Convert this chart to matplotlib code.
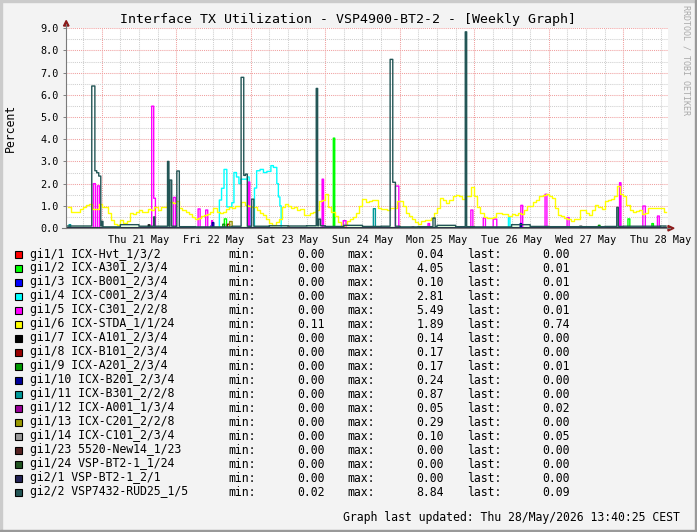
import numpy as np
import matplotlib
matplotlib.use('Agg')
import matplotlib.pyplot as plt
from matplotlib.patches import Rectangle, Polygon
from matplotlib.lines import Line2D

plt.rcParams['font.family'] = ['DejaVu Sans Mono']

W, H = 697, 532

# time axis in hours, 0 = Thu 21 May 00:00
t_start, t_end, t_last = -11.5, 182.4, 181.8
day_noons = [12, 36, 60, 84, 108, 132, 156, 180]
day_labels = ['Thu 21 May', 'Fri 22 May', 'Sat 23 May', 'Sun 24 May',
              'Mon 25 May', 'Tue 26 May', 'Wed 27 May', 'Thu 28 May']

# legend table
names = ['gi1/1 ICX-Hvt_1/3/2', 'gi1/2 ICX-A301_2/3/4', 'gi1/3 ICX-B001_2/3/4',
         'gi1/4 ICX-C001_2/3/4', 'gi1/5 ICX-C301_2/2/8', 'gi1/6 ICX-STDA_1/1/24',
         'gi1/7 ICX-A101_2/3/4', 'gi1/8 ICX-B101_2/3/4', 'gi1/9 ICX-A201_2/3/4',
         'gi1/10 ICX-B201_2/3/4', 'gi1/11 ICX-B301_2/2/8', 'gi1/12 ICX-A001_1/3/4',
         'gi1/13 ICX-C201_2/2/8', 'gi1/14 ICX-C101_2/3/4', 'gi1/23 5520-New14_1/23',
         'gi1/24 VSP-BT2-1_1/24', 'gi2/1 VSP-BT2-1_2/1', 'gi2/2 VSP7432-RUD25_1/5']
colors = ['#FF0000', '#00FF00', '#0000FF', '#00FFFF', '#FF00FF', '#FFFF00',
          '#000000', '#990000', '#009900', '#000099', '#009999', '#990099',
          '#999900', '#999999', '#552222', '#225522', '#222255', '#225555']
mins = [0.00, 0.00, 0.00, 0.00, 0.00, 0.11, 0.00, 0.00, 0.00,
        0.00, 0.00, 0.00, 0.00, 0.00, 0.00, 0.00, 0.00, 0.02]
maxs = [0.04, 4.05, 0.10, 2.81, 5.49, 1.89, 0.14, 0.17, 0.17,
        0.24, 0.87, 0.05, 0.29, 0.10, 0.00, 0.00, 0.00, 8.84]
lasts = [0.00, 0.01, 0.01, 0.00, 0.01, 0.74, 0.00, 0.00, 0.01,
         0.00, 0.00, 0.02, 0.00, 0.05, 0.00, 0.00, 0.00, 0.09]

# gi1/6 hourly values starting at hour -11
yellow_vals = [
    0.95, 0.74, 0.71, 0.74, 0.84, 0.96, 1.02, 1.08, 0.86, 0.86, 1.08,
    0.95, 0.95, 0.68, 0.38, 0.20, 0.12, 0.35, 0.23, 0.30, 0.68,
    0.65, 0.71, 0.80, 0.70, 0.74, 0.84, 0.80, 0.95, 0.80, 0.96,
    0.95, 1.16, 1.15, 1.12, 1.23, 0.89, 0.80, 0.71, 0.65, 0.50,
    0.41, 0.45, 0.54, 0.59, 0.65, 0.74, 0.89, 0.74, 0.68, 0.74,
    0.84, 0.95, 0.89, 1.00, 1.00, 1.16, 1.05, 1.00, 0.95, 0.96,
    0.80, 0.68, 0.59, 0.41, 0.23, 0.12, 0.26, 0.41, 0.95, 1.08,
    1.00, 0.89, 0.96, 0.80, 0.84, 0.59, 0.59, 0.68, 0.74, 0.80,
    1.20, 1.26, 1.52, 0.96, 0.74, 0.54, 0.26, 0.11, 0.15, 0.30,
    0.41, 0.50, 0.68, 1.00, 1.29, 1.15, 1.20, 1.26, 1.26, 0.89,
    0.86, 0.84, 0.80, 0.89, 0.89, 1.20, 1.20, 1.00, 0.68, 0.53,
    0.41, 0.26, 0.20, 0.30, 0.38, 0.38, 0.45, 0.68, 0.89, 1.33,
    1.26, 1.11, 1.26, 1.42, 1.50, 1.45, 1.30, 1.42, 1.42, 1.83,
    1.42, 0.96, 0.68, 0.50, 0.45, 0.45, 0.50, 0.68, 0.68, 0.65,
    0.65, 0.56, 0.65, 0.59, 0.68, 0.65, 0.80, 1.00, 1.00, 1.16,
    1.26, 1.42, 1.50, 1.52, 1.45, 1.33, 0.92, 0.59, 0.53, 0.45,
    0.41, 0.30, 0.41, 0.41, 0.80, 0.80, 0.68, 0.59, 0.80, 1.05,
    0.96, 0.84, 1.23, 1.26, 1.30, 1.42, 1.89, 1.55, 1.42, 1.05,
    0.80, 0.74, 0.76, 0.80, 0.65, 0.68, 0.92, 0.92, 0.89, 0.89,
    0.92, 0.74]

# gi2/2 background level, 6 hour blocks starting at hour -12
slate_base = [0.09, 0.09, 0.05, 0.15, 0.08, 0.08, 0.06, 0.05, 0.05, 0.08, 0.08,
              0.10, 0.09, 0.10, 0.07, 0.12, 0.07, 0.08, 0.05, 0.06, 0.12, 0.06,
              0.05, 0.05, 0.15, 0.07, 0.06, 0.06, 0.06, 0.07, 0.08, 0.08, 0.09]

# bursts: (from hour, to hour, value)
slate_spikes = [(-3.2, -2.2, 6.40), (-2.2, -1.6, 2.58), (-1.6, -0.97, 2.49),
                (-0.97, -0.32, 2.34), (0.0, 0.4, 0.30), (16.75, 17.07, 0.50),
                (21.2, 21.65, 3.00), (22.0, 22.55, 2.16), (24.16, 25.0, 2.57),
                (44.88, 45.75, 6.79), (45.75, 46.26, 2.37), (46.26, 46.9, 2.43),
                (48.3, 49.0, 1.30), (69.1, 69.55, 6.29), (69.9, 70.5, 0.40),
                (92.88, 93.75, 7.60), (93.75, 94.59, 2.06), (106.7, 107.4, 0.45),
                (117.1, 117.55, 8.84), (165.9, 166.4, 0.93)]
magenta_spikes = [(-2.7, -2.06, 2.00), (-1.42, -0.77, 1.90), (16.1, 16.75, 5.49),
                  (16.75, 17.27, 1.34), (23.07, 23.71, 1.38), (31.02, 31.67, 0.86),
                  (33.5, 34.15, 0.81), (35.4, 35.7, 0.33), (47.23, 47.68, 2.07),
                  (71.0, 71.45, 2.20), (77.8, 78.7, 0.33), (94.59, 95.68, 1.89),
                  (105.1, 105.6, 0.20), (118.88, 119.52, 0.81), (122.9, 123.6, 0.45),
                  (126.06, 127.25, 0.40), (135.0, 135.6, 1.02), (142.8, 143.4, 1.52),
                  (149.9, 150.55, 0.47), (166.8, 167.25, 2.04), (174.3, 175.1, 0.99),
                  (179.0, 179.6, 0.54)]
cyan_spikes = [(37.9, 38.6, 1.26), (38.6, 39.4, 1.79), (39.4, 40.3, 2.64),
               (40.3, 41.9, 0.95), (41.9, 42.6, 1.14), (42.6, 43.4, 2.50),
               (43.4, 44.2, 2.30), (44.2, 44.8, 2.00), (44.8, 46.9, 2.20),
               (46.9, 47.5, 2.30), (47.5, 48.0, 0.90), (49.2, 49.9, 1.80),
               (49.9, 51.0, 2.58), (51.0, 52.1, 2.64), (52.1, 53.2, 2.50),
               (53.2, 54.5, 2.55), (54.5, 55.3, 2.81), (55.3, 56.4, 2.73),
               (56.4, 56.9, 2.00), (56.9, 57.4, 1.40), (57.4, 57.8, 1.00),
               (131.0, 131.5, 0.48)]
green_spikes = [(39.5, 40.2, 0.41), (74.6, 75.05, 4.05), (169.5, 170.1, 0.41),
                (177.2, 177.7, 0.20)]
teal_spikes = [(-10.5, -10.0, 0.15), (87.5, 88.15, 0.87)]
blue_spikes = [(35.2, 35.6, 0.10)]
navy_spikes = [(35.6, 36.1, 0.24), (134.8, 135.2, 0.20)]
darkred_spikes = [(40.5, 41.2, 0.17)]
dkgreen_spikes = [(39.0, 39.6, 0.17), (160.0, 160.5, 0.12)]
olive_spikes = [(41.2, 42.0, 0.29)]
grey_spikes = [(154.0, 154.6, 0.10), (181.0, 181.8, 0.05)]
black_spikes = [(15.0, 15.5, 0.14)]
purple_spikes = [(100.0, 100.5, 0.05)]
red_spikes = [(60.0, 60.5, 0.04)]

grid_t = np.arange(t_start, t_last, 0.05)


def build(spikes, base=0.0):
    v = np.full(grid_t.shape, base)
    for a, b, val in spikes:
        v[(grid_t >= a) & (grid_t < b)] = val
    return v


slate = np.array(slate_base)[((grid_t + 12) // 6).astype(int)]
slate = np.maximum(slate, build(slate_spikes))

yellow_t = np.append(np.arange(-11, -11 + len(yellow_vals)), t_last)
yellow_v = np.append(yellow_vals, yellow_vals[-1])

series = [build(red_spikes), build(green_spikes, 0.02), build(blue_spikes),
          build(cyan_spikes), build(magenta_spikes, 0.01), None,
          build(black_spikes), build(darkred_spikes), build(dkgreen_spikes),
          build(navy_spikes), build(teal_spikes), build(purple_spikes),
          build(olive_spikes), build(grey_spikes), build([]), build([]),
          build([]), slate]

fig = plt.figure(figsize=(W / 100, H / 100), dpi=100, facecolor='#F3F3F3')


def fx(x):
    return x / W


def fy(y):
    return 1 - y / H


ax = fig.add_axes([fx(66), fy(228), (668 - 66) / W, (228 - 28.3) / H])
ax.set_facecolor('white')
ax.set_xlim(t_start, t_end)
ax.set_ylim(0, 9)
for s in ax.spines.values():
    s.set_visible(False)

# grid
for h in np.arange(-6, 181, 6):
    major = h % 24 == 0
    ax.axvline(h, color='#F0A0A0' if major else '#CFCFCF', lw=0.75,
               ls=(0, (1, 1)), zorder=1)
for yv in np.arange(0.5, 9.01, 0.5):
    major = yv % 1 == 0
    ax.axhline(yv, color='#F0A0A0' if major else '#CFCFCF', lw=0.75,
               ls=(0, (1, 1)), zorder=1)

for i, col in enumerate(colors):
    if i == 5:
        ax.plot(yellow_t, yellow_v, drawstyle='steps-post', color=col, lw=1.0, zorder=3)
    else:
        ax.plot(grid_t, series[i], drawstyle='steps-post', color=col, lw=1.0, zorder=3)

ax.set_yticks(np.arange(0, 9.01, 1.0))
ax.set_yticklabels(['%.1f' % v for v in np.arange(0, 9.01, 1.0)], fontsize=7.3)
ax.set_xticks(day_noons)
ax.set_xticklabels(day_labels, fontsize=7.3)
ax.tick_params(axis='y', length=2, width=0.7, color='#808080', pad=3)
ax.tick_params(axis='x', length=0, pad=5)

# axes lines with arrows
fig.add_artist(Line2D([fx(66), fx(66)], [fy(228), fy(24)], color='#7A7A7A', lw=0.8))
fig.add_artist(Line2D([fx(62), fx(670)], [fy(228), fy(228)], color='#7A7A7A', lw=0.8))
fig.add_artist(Polygon([[fx(63.5), fy(26)], [fx(69), fy(26)], [fx(66.2), fy(20.5)]],
                       closed=True, color='#8B1A1A', transform=fig.transFigure))
fig.add_artist(Polygon([[fx(668), fy(225.5)], [fx(668), fy(231)], [fx(674), fy(228.2)]],
                       closed=True, color='#8B1A1A', transform=fig.transFigure))

fig.text(fx(348), fy(19), 'Interface TX Utilization - VSP4900-BT2-2 - [Weekly Graph]',
         fontsize=9.5, ha='center', va='center')
fig.text(fx(10), fy(128), 'Percent', fontsize=8.3, rotation=90, ha='center', va='center')
fig.text(fx(686), fy(5), 'RRDTOOL / TOBI OETIKER', fontsize=6, rotation=270,
         ha='center', va='top', color='#AAAAAA')

for i in range(len(names)):
    y = 254 + 14 * i
    fig.add_artist(Rectangle((fx(15), fy(y + 4)), 7 / W, 7 / H, facecolor=colors[i],
                             edgecolor='black', lw=0.8, transform=fig.transFigure))
    fig.text(fx(30), fy(y), names[i], fontsize=8.3, va='center')
    fig.text(fx(228), fy(y), 'min:', fontsize=8.3, va='center')
    fig.text(fx(325), fy(y), '%.2f' % mins[i], fontsize=8.3, va='center', ha='right')
    fig.text(fx(347), fy(y), 'max:', fontsize=8.3, va='center')
    fig.text(fx(444), fy(y), '%.2f' % maxs[i], fontsize=8.3, va='center', ha='right')
    fig.text(fx(467), fy(y), 'last:', fontsize=8.3, va='center')
    fig.text(fx(570), fy(y), '%.2f' % lasts[i], fontsize=8.3, va='center', ha='right')

fig.text(fx(680), fy(518), 'Graph last updated: Thu 28/May/2026 13:40:25 CEST',
         fontsize=8.3, ha='right', va='center')

# shaded frame
fig.add_artist(Rectangle((0, fy(2)), 1, 2 / H, color='#CBCBCB', transform=fig.transFigure))
fig.add_artist(Rectangle((0, 0), 2 / W, 1, color='#CBCBCB', transform=fig.transFigure))
fig.add_artist(Rectangle((0, 0), 1, 2 / H, color='#999999', transform=fig.transFigure))
fig.add_artist(Rectangle((fx(695), 0), 2 / W, 1, color='#999999', transform=fig.transFigure))

fig.savefig('out.png', dpi=100, facecolor=fig.get_facecolor())
